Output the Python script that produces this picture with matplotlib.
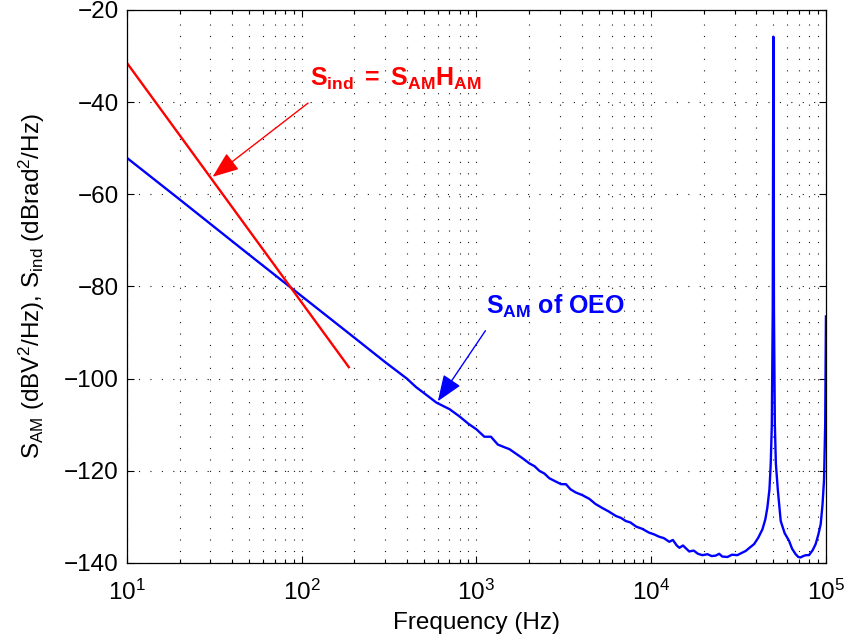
import matplotlib
matplotlib.use('Agg')
import matplotlib.pyplot as plt
from matplotlib.ticker import LogLocator, NullFormatter, MultipleLocator

plt.rcParams['font.family'] = ['Liberation Sans', 'DejaVu Sans']
plt.rcParams['mathtext.fontset'] = 'custom'
plt.rcParams['mathtext.rm'] = 'Liberation Sans'
plt.rcParams['mathtext.it'] = 'Liberation Sans:italic'
plt.rcParams['mathtext.bf'] = 'Liberation Sans:bold'

# S_AM of OEO (blue)
f_oeo = [10, 20, 50, 100, 200, 300, 400, 450, 520, 590, 650, 700, 800, 900,
         1000, 1110, 1210, 1325, 1450, 1545, 1700, 1840, 2010, 2150, 2290,
         2450, 2610, 2800, 3050, 3250, 3450, 3700, 4050, 4430, 4800, 5270,
         5700, 6280, 6700, 7160, 7600, 8200, 8900, 9700, 10400, 11100, 11800,
         12700, 13300, 14000, 14500, 15200, 16500, 17500, 18500, 19600, 21000,
         22200, 23400, 24500, 25500, 27300, 29000, 31100, 33000, 34700, 36800,
         38800, 41000, 43300, 45000, 46200, 47500, 48300, 49000, 49600, 50000,
         50400, 51000, 51700, 53000, 55100, 58000, 61500, 64000, 67100, 69500,
         71600, 74000, 77000, 80000, 84000, 87300, 90500, 93300, 95500, 97500,
         99000, 100000]
s_am = [-52.1, -61.1, -73.1, -82.1, -91.1, -96.4, -100.0, -101.8, -103.6,
        -105.2, -106.0, -106.6, -108.2, -109.8, -111.0, -112.6, -112.6, -114.3,
        -114.9, -115.3, -116.4, -117.3, -118.4, -119.0, -120.0, -120.6, -121.6,
        -122.2, -122.9, -122.9, -124.0, -124.7, -125.3, -126.1, -127.2, -128.1,
        -128.8, -129.8, -130.2, -130.9, -131.2, -132.1, -132.6, -133.4, -133.8,
        -134.3, -134.6, -135.4, -135.0, -136.2, -136.7, -136.2, -137.5, -137.3,
        -138.0, -138.3, -138.1, -138.5, -138.4, -138.0, -138.6, -138.7, -138.2,
        -138.3, -137.8, -137.4, -136.6, -135.9, -134.5, -132.7, -130.5, -128.0,
        -124.0, -118.5, -110.0, -85.0, -25.8, -85.0, -110.0, -118.5, -124.0,
        -130.9, -133.5, -135.2, -136.9, -138.1, -138.7, -138.8, -138.5, -138.3,
        -138.3, -137.2, -135.9, -133.8, -131.6, -127.5, -122.0, -110.0, -86.5]

# S_ind = S_AM * H_AM (red)
f_ind = [10, 186]
s_ind = [-31.5, -97.5]

x_ticks = [1e1, 1e2, 1e3, 1e4, 1e5]
y_ticks = [-140, -120, -100, -80, -60, -40, -20]

fig = plt.figure(figsize=(8.46, 6.41), dpi=100)
ax = fig.add_axes([0.1501, 0.1217, 0.8262, 0.8627])

ax.plot(f_oeo, s_am, color='blue', lw=1.7)
ax.plot(f_ind, s_ind, color='red', lw=1.7)

ax.set_xscale('log')
ax.set_xlim(10, 1e5)
ax.set_ylim(-140, -20)
ax.set_xticks(x_ticks)
ax.set_yticks(y_ticks)
ax.xaxis.set_minor_locator(LogLocator(base=10, subs=range(2, 10), numticks=100))
ax.xaxis.set_minor_formatter(NullFormatter())

gstyle = dict(ls=(0, (1.0, 9.3)), lw=0.8, color='0.1')
ax.grid(True, which='major', axis='both', **gstyle)
ax.grid(True, which='minor', axis='x', **gstyle)

ax.tick_params(which='both', direction='in', top=True, right=True,
               labelsize=17.5, width=0.8)
ax.tick_params(which='major', length=5)
ax.tick_params(which='minor', length=3)
ax.tick_params(axis='x', pad=12)
ax.tick_params(axis='y', pad=6)
for s in ax.spines.values():
    s.set_linewidth(0.9)

ax.set_xlabel('Frequency (Hz)', fontsize=17.5, labelpad=5)
ax.set_ylabel(r'S$_{\rm AM}$ (dBV$^{2}$/Hz), S$_{\rm ind}$ (dBrad$^{2}$/Hz)',
              fontsize=17.5, labelpad=12)

# annotations
ax.annotate('', xy=(30.9, -56.2), xytext=(108.7, -40.2),
            arrowprops=dict(arrowstyle='-|>,head_length=0.9,head_width=0.35',
                            color='red', lw=1.0, shrinkA=0, shrinkB=0,
                            mutation_scale=18))
ax.text(111, -36.5, r'$\mathbf{S_{ind}\ =\ S_{AM}H_{AM}}$', color='red',
        fontsize=18, va='baseline', ha='left')

ax.annotate('', xy=(601, -104.9), xytext=(1125, -89.6),
            arrowprops=dict(arrowstyle='-|>,head_length=0.9,head_width=0.35',
                            color='blue', lw=1.0, shrinkA=0, shrinkB=0,
                            mutation_scale=18))
ax.text(1135, -85.9, r'$\mathbf{S_{AM}}$ of OEO', color='blue',
        fontsize=18, fontweight='bold', va='baseline', ha='left')

fig.savefig('out.png', dpi=100)
